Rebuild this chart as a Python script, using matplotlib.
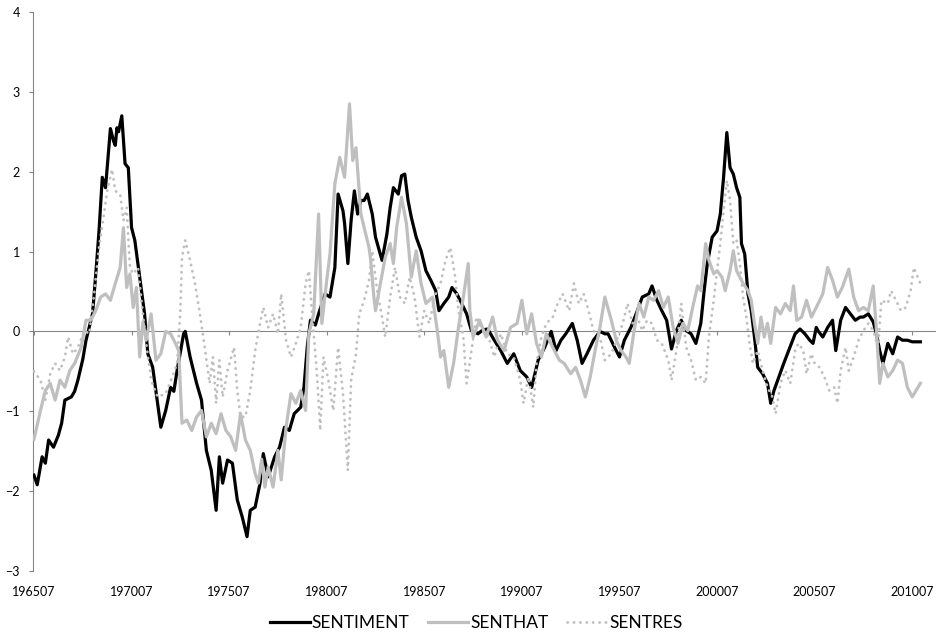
import matplotlib
matplotlib.use("Agg")
import matplotlib.pyplot as plt

plt.rcParams['font.family'] = ['Lato', 'DejaVu Sans']

# months since 196507 and values
sent_m = [0, 2, 5, 7, 9, 12, 15, 17, 19, 23, 25, 27, 30, 32, 36, 38, 40, 42, 44, 47, 49, 50, 51, 52, 54, 56, 58,
          60, 62, 65, 68, 70, 73, 76, 78, 81, 84, 86, 88, 92, 93, 96, 100, 103, 106, 109, 112, 114, 116, 119,
          122, 125, 128, 131, 133, 136, 139, 141, 144, 148, 151, 154, 157, 160, 164, 166, 168, 170, 173, 175,
          179, 182, 185, 187, 190, 191, 193, 195, 197, 199, 201, 203, 205, 208, 210, 214, 217, 219, 221, 224,
          226, 228, 230, 232, 235, 238, 241, 244, 247, 249, 252, 255, 257, 260, 263, 266, 269, 273, 276, 279,
          283, 287, 291, 295, 299, 303, 306, 308, 310, 314, 318, 321, 324, 327, 331, 334, 337, 340, 344, 348,
          351, 353, 357, 360, 363, 367, 371, 374, 378, 380, 383, 386, 389, 392, 395, 398, 401, 404, 407, 410,
          412, 414, 417, 420, 422, 424, 426, 428, 430, 432, 434, 435, 437, 439, 441, 443, 445, 448, 451, 453,
          455, 458, 461, 464, 468, 471, 474, 477, 479, 481, 482, 485, 488, 491, 493, 496, 499, 502, 505, 508,
          510, 513, 516, 518, 520, 522, 525, 528, 531, 534, 537, 540, 545]
sent_v = [-1.80, -1.92, -1.57, -1.65, -1.36, -1.45, -1.30, -1.15, -0.86, -0.82, -0.75, -0.61, -0.35, -0.11, 0.22,
          0.72, 1.26, 1.93, 1.80, 2.54, 2.38, 2.33, 2.55, 2.50, 2.70, 2.10, 2.05,
          1.30, 1.14, 0.68, 0.22, -0.28, -0.45, -0.90, -1.20, -0.99, -0.70, -0.75, -0.49, -0.03, 0.00, -0.32,
          -0.65, -0.86, -1.49, -1.74, -2.24, -1.57, -1.90, -1.61,
          -1.65, -2.11, -2.32, -2.57, -2.24, -2.20, -1.90, -1.53, -1.82, -1.57, -1.45, -1.20, -1.24, -1.03,
          -0.95, -0.70, -0.20, 0.14, 0.08, 0.22,
          0.47, 0.43, 0.80, 1.72, 1.51, 1.35, 0.85, 1.39, 1.76, 1.47, 1.64, 1.64, 1.72, 1.47, 1.18, 0.89, 1.22,
          1.55, 1.80, 1.72,
          1.95, 1.97, 1.64, 1.43, 1.18, 1.01, 0.76, 0.64, 0.51, 0.26, 0.35, 0.43, 0.55, 0.47, 0.35, 0.22, 0.01,
          -0.03, 0.02, 0.03,
          -0.11, -0.24, -0.40, -0.28, -0.49, -0.57, -0.70, -0.53, -0.36, -0.20, 0.00, -0.24, -0.11, -0.03, 0.10,
          -0.11, -0.40, -0.28, -0.11, 0.00,
          -0.03, -0.03, -0.20, -0.32, -0.11, 0.05, 0.26, 0.43, 0.47, 0.57, 0.39, 0.26, 0.14, -0.22, 0.01, 0.14,
          0.01, -0.03, -0.15, 0.10,
          0.50, 0.85, 1.18, 1.26, 1.47, 1.93, 2.49, 2.05, 1.97, 1.80, 1.68, 1.10, 0.97, 0.47, 0.26, -0.07, -0.45,
          -0.53, -0.65, -0.90,
          -0.74, -0.57, -0.40, -0.24, -0.03, 0.03, -0.03, -0.11, -0.15, 0.05, 0.01, -0.07, 0.05, 0.14, -0.24,
          0.14, 0.30, 0.22, 0.14, 0.18,
          0.18, 0.22, 0.12, -0.03, -0.24, -0.40, -0.15, -0.28, -0.07, -0.11, -0.11, -0.13, -0.13]

hat_m = [0, 4, 7, 10, 13, 16, 19, 22, 25, 29, 32, 35, 38, 41, 44, 47, 50, 53, 55, 57, 59, 61, 63, 65, 67, 69,
         72, 75, 78, 81, 84, 87, 89, 91, 94, 97, 100, 103, 106, 109, 112, 115, 118, 121, 124, 127, 130, 133, 136,
         138, 140, 142, 144, 147, 150, 152, 155, 158, 161, 164, 167, 169, 172, 175, 177, 180, 182, 185, 188, 191,
         194, 196, 198, 201, 203, 206, 207, 209, 210, 213, 216, 219, 221, 223, 226, 229, 232, 235, 238, 241, 245,
         248, 250, 252, 255, 258, 261, 264, 267, 268, 270, 274, 278, 282, 285, 289, 293, 297, 300, 303, 306, 309,
         312, 315, 319, 323, 326, 330, 333, 336, 339, 342, 345, 348, 351, 355, 358, 361, 364, 366, 369, 372, 375,
         378, 381, 384, 387, 390, 393, 396, 399, 402, 405, 408, 410, 413, 415, 418, 420, 423, 425, 428, 430, 432,
         434, 436, 439, 441, 443, 445, 447, 449, 451, 453, 456, 459, 462, 465, 467, 469, 472, 475, 478, 481, 485,
         488, 491, 494, 497, 501, 504, 507, 510, 513, 516, 518, 520, 522, 525, 528, 531, 534, 537, 540, 545]
hat_v = [-1.35, -0.99, -0.74, -0.65, -0.86, -0.61, -0.70, -0.49, -0.40, -0.20, 0.14, 0.14, 0.26, 0.43, 0.47,
         0.39, 0.60, 0.80, 1.30, 0.55, 0.72, 0.30, 0.55, -0.32, 0.12, -0.11,
         0.22, -0.36, -0.28, 0.00, -0.03, -0.15, -0.24, -1.15, -1.11, -1.24, -1.07, -0.99, -1.32, -1.15, -1.28,
         -1.03, -1.24, -1.32, -1.49, -1.03, -1.36, -1.49, -1.78,
         -1.90, -1.60, -1.95, -1.70, -1.95, -1.49, -1.86, -1.20, -0.78, -0.90, -0.74, -0.99, -0.03, 0.22, 1.47,
         0.10, 0.64, 0.97, 1.85, 2.18, 1.93,
         2.85, 2.14, 2.30, 1.47, 1.30, 1.05, 0.90, 0.43, 0.26, 0.60, 0.93, 1.10, 0.85, 1.30, 1.68, 1.35, 0.68,
         1.01, 0.60, 0.35, 0.43,
         0.01, -0.32, -0.24, -0.70, -0.40, 0.05, 0.43, 0.85, 0.26, -0.07, 0.14, -0.07, 0.18, -0.11, -0.24, 0.05,
         0.10, 0.39, -0.03, 0.22, -0.15,
         -0.32, -0.03, -0.20, -0.36, -0.40, -0.53, -0.45, -0.61, -0.82, -0.57, -0.24, 0.05, 0.43, 0.14, -0.11,
         -0.24, -0.32, -0.40, 0.01, 0.35, 0.18,
         0.43, 0.39, 0.51, 0.30, 0.43, 0.05, -0.15, 0.10, 0.01, 0.30, 0.57, 0.51, 1.10, 0.89, 0.72, 0.76, 0.68,
         0.51, 0.76, 1.01, 0.76,
         0.68, 0.60, 0.51, 0.39, 0.10, -0.15, 0.18, -0.07, 0.10, -0.15, 0.30, 0.22, 0.35, 0.26, 0.57, 0.14, 0.18,
         0.39, 0.18, 0.30, 0.47,
         0.80, 0.64, 0.43, 0.55, 0.78, 0.43, 0.26, 0.30, 0.26, 0.57, 0.01, -0.65, -0.40, -0.57, -0.49, -0.36,
         -0.40, -0.70, -0.82, -0.65]

res_m = [0, 4, 7, 10, 13, 16, 19, 21, 24, 27, 31, 34, 37, 40, 43, 45, 48, 50, 53, 55, 57, 59, 61, 64, 66, 69,
         72, 76, 81, 85, 88, 90, 91, 93, 96, 99, 102, 105, 108, 110, 112, 114, 116, 119, 123, 125, 127, 130, 133,
         136, 139, 141, 144, 147, 150, 152, 155, 158, 161, 164, 167, 169, 171, 174, 176, 178, 181, 184, 187, 190,
         193, 195, 198, 200, 203, 206, 208, 211, 214, 216, 219, 222, 225, 228, 231, 234, 237, 240, 243, 247, 250,
         253, 256, 259, 261, 264, 266, 269, 272, 276, 279, 283, 287, 291, 295, 299, 301, 304, 307, 309, 312, 315,
         319, 322, 325, 329, 332, 335, 338, 341, 344, 348, 351, 355, 359, 362, 365, 368, 371, 374, 377, 380, 383,
         386, 390, 392, 395, 398, 401, 404, 407, 410, 413, 415, 418, 420, 422, 424, 426, 428, 430, 432, 434, 436,
         438, 440, 442, 445, 448, 451, 454, 456, 459, 462, 465, 468, 470, 473, 475, 478, 480, 483, 486, 489, 492,
         494, 496, 499, 501, 504, 507, 510, 513, 516, 519, 521, 525, 527, 530, 533, 536, 539, 541, 545]
res_v = [-0.50, -0.61, -0.86, -0.53, -0.40, -0.49, -0.32, -0.07, -0.28, -0.20, 0.01, -0.03, 0.47, 1.05, 1.47,
         1.76, 2.03, 1.76, 1.72, 1.39, 1.55, 0.80, 0.72, 0.80, 0.40, -0.15,
         -0.61, -0.82, -0.78, -0.57, -0.40, 0.26, 0.93, 1.14, 0.89, 0.60, 0.22, -0.20, -0.65, -0.32, -0.90, -0.36,
         -0.82, -0.49, -0.20, -0.74, -1.07, -1.07, -0.74,
         -0.24, 0.10, 0.30, 0.05, 0.22, -0.03, 0.47, -0.11, -0.32, -0.15, 0.05, 0.60, 0.76, 0.22, -0.53, -1.24,
         -0.32, -0.61, -0.99, -0.20, -0.78,
         -1.74, -0.61, -0.28, 0.22, 0.39, 0.64, 1.01, 0.51, 0.18, -0.07, 0.43, 0.80, 0.43, 0.35, 0.68, 0.43,
         -0.07, 0.26, 0.10, 0.47, 0.60,
         0.89, 1.05, 0.68, 0.26, -0.07, -0.65, -0.24, 0.18, 0.01, -0.03, -0.32, -0.03, -0.28, -0.32, -0.61, -0.90,
         -0.57, -0.95, -0.40, -0.07, 0.10,
         0.18, 0.35, 0.47, 0.26, 0.60, 0.35, 0.47, 0.26, 0.01, -0.07, -0.36, -0.28, -0.07, 0.10, 0.35, 0.10, 0.18,
         0.01, 0.14, 0.10, -0.11,
         -0.15, -0.36, -0.61, -0.24, 0.35, -0.20, -0.36, -0.61, -0.57, -0.65, -0.07, 0.40, 0.76, 1.10, 1.51, 1.89,
         1.64, 1.10, 1.14, 0.85, 0.43,
         0.18, -0.15, -0.40, -0.24, -0.49, -0.70, -0.82, -1.03, -0.65, -0.49, -0.65, -0.24, -0.15, -0.24, -0.53,
         -0.28, -0.40, -0.45, -0.57, -0.74, -0.70,
         -0.90, -0.49, -0.20, -0.49, -0.32, -0.11, 0.01, 0.10, 0.01, -0.20, 0.39, 0.35, 0.51, 0.39, 0.26, 0.30,
         0.51, 0.80, 0.60]

tick_months = [0, 60, 120, 180, 240, 300, 360, 420, 480, 540]
tick_labels = ['196507', '197007', '197507', '198007', '198507', '199007', '199507', '200007', '200507', '201007']

fig = plt.figure(figsize=(9.37, 6.35), dpi=100)
ax = fig.add_axes([33 / 937, 1 - 571 / 635, (935 - 33) / 937, (571 - 12) / 635])

grey = '#BFBFBF'
axis_grey = '#868686'
ax.plot(sent_m, sent_v, color='black', lw=2.3, label='SENTIMENT', zorder=3, solid_joinstyle='round')
ax.plot(hat_m, hat_v, color=grey, lw=2.3, label='SENTHAT', zorder=4, solid_joinstyle='round')
ax.plot(res_m, res_v, color=grey, lw=2.0, linestyle=(0, (0.1, 2.2)), dash_capstyle='round',
        label='SENTRES', zorder=5)

ax.set_xlim(-0.6, 554)
ax.set_ylim(-3, 4)
ax.set_yticks(range(-3, 5))
ax.tick_params(axis='y', length=3, color=axis_grey, labelsize=9, pad=6.5)

for s in ['top', 'right']:
    ax.spines[s].set_visible(False)
ax.spines['left'].set_color(axis_grey)
ax.spines['bottom'].set_position(('data', 0))
ax.spines['bottom'].set_color(axis_grey)
ax.set_xticks(tick_months)
ax.tick_params(axis='x', length=3, color=axis_grey, labelbottom=False)

sec = ax.secondary_xaxis(0)
sec.set_xticks(tick_months)
sec.set_xticklabels(tick_labels)
sec.tick_params(length=0, labelsize=9, pad=11)
sec.spines['bottom'].set_visible(False)

fig.legend(loc='center', bbox_to_anchor=(0.508, 1 - 623 / 635), ncol=3, frameon=False,
           fontsize=12.5, handlelength=2.3, columnspacing=1.1, handletextpad=0.1)

fig.savefig('out.png', dpi=100)
